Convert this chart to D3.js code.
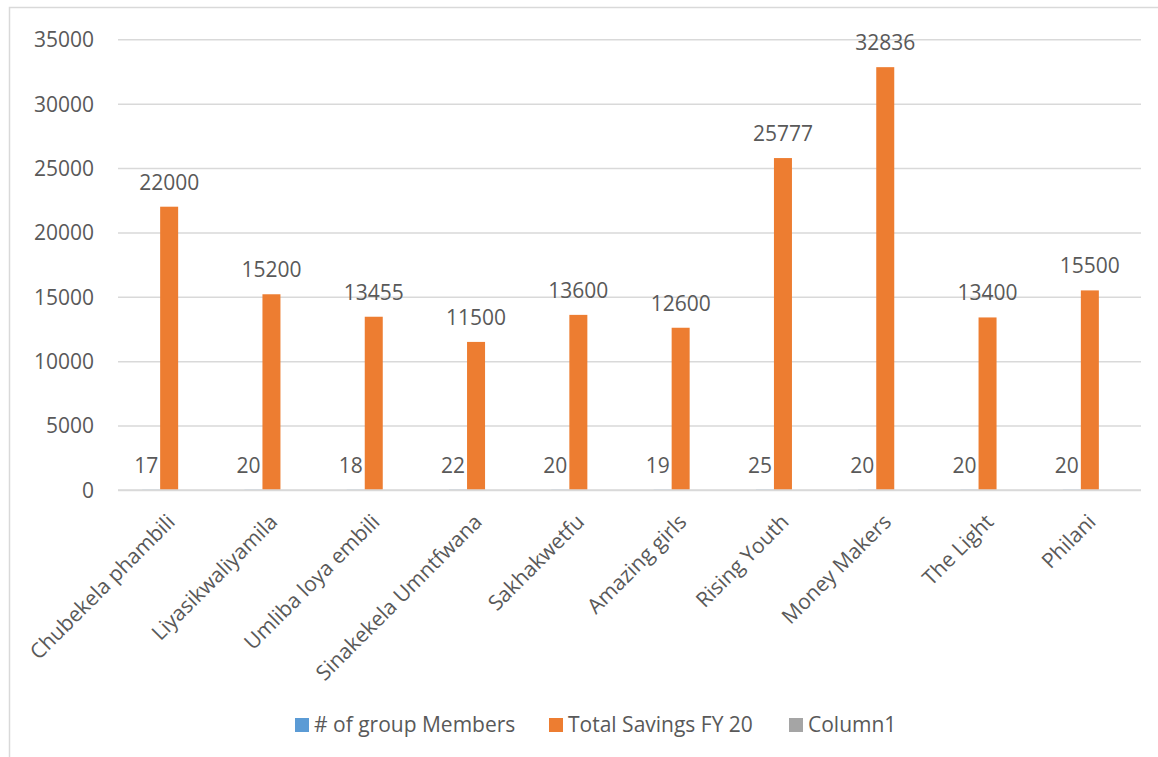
<!DOCTYPE html>
<html>
<head>
<meta charset="utf-8">
<script src="https://cdn.jsdelivr.net/npm/d3@7"></script>
<style>
  html, body { margin: 0; padding: 0; background: #ffffff; }
  svg { display: block; }
  text { font-family: "Open Sans", sans-serif; fill: #595959; }
</style>
</head>
<body>
<svg id="chart" width="1158" height="757"></svg>
<script>
const categories = ["Chubekela phambili", "Liyasikwaliyamila", "Umliba loya embili", "Sinakekela Umntfwana", "Sakhakwetfu", "Amazing girls", "Rising Youth", "Money Makers", "The Light", "Philani"];
const members = [17, 20, 18, 22, 20, 19, 25, 20, 20, 20];
const savings = [22000, 15200, 13455, 11500, 13600, 12600, 25777, 32836, 13400, 15500];
const column1 = [null, null, null, null, null, null, null, null, null, null];
const seriesNames = ["# of group Members", "Total Savings FY 20", "Column1"];
const seriesColors = ["#5b9bd5", "#ed7d31", "#a5a5a5"];
const yTicks = [0, 5000, 10000, 15000, 20000, 25000, 30000, 35000];

const svg = d3.select("#chart");
const W = 1158, H = 757;
const plot = { left: 118, right: 1141, top: 39.3, bottom: 490 };

// chart frame
svg.append("rect")
  .attr("x", 9.5).attr("y", 7.5)
  .attr("width", W + 20).attr("height", H + 20)
  .attr("fill", "#ffffff").attr("stroke", "#d9d9d9").attr("stroke-width", 1.5);

const y = d3.scaleLinear().domain([0, 35000]).range([plot.bottom, plot.top]);
const x0 = d3.scaleBand().domain(categories).range([plot.left, plot.right])
  .paddingInner(0.472).paddingOuter(0.236);
const x1 = d3.scaleBand().domain(seriesNames).range([0, x0.bandwidth()]);

// gridlines + y labels
const yAxis = d3.axisLeft(y).tickValues(yTicks).tickSize(-(plot.right - plot.left)).tickPadding(24).tickFormat(d3.format("d"));
const gy = svg.append("g").attr("transform", `translate(${plot.left},0)`).call(yAxis);
gy.select(".domain").remove();
gy.selectAll(".tick line").attr("stroke", "#d9d9d9").attr("stroke-width", 1.5);
gy.selectAll(".tick text").style("font-size", "21px").attr("fill", "#595959").attr("dy", "0.35em");

const data = categories.map((c, i) => ({ cat: c, vals: [members[i], savings[i], column1[i]] }));

// bars
const groups = svg.append("g").selectAll("g").data(data).join("g")
  .attr("transform", d => `translate(${x0(d.cat)},0)`);
groups.selectAll("rect").data(d => d.vals.map((v, k) => ({ v, k })).filter(e => e.v != null)).join("rect")
  .attr("x", e => x1(seriesNames[e.k]))
  .attr("width", x1.bandwidth())
  .attr("y", e => y(e.v))
  .attr("height", e => y(0) - y(e.v))
  .attr("fill", e => seriesColors[e.k]);

// axis baseline
svg.append("line")
  .attr("x1", plot.left).attr("x2", plot.right)
  .attr("y1", y(0)).attr("y2", y(0))
  .attr("stroke", "#d9d9d9").attr("stroke-width", 1.5);

// data labels: savings centred above bar
groups.append("text")
  .attr("x", x1(seriesNames[1]) + x1.bandwidth() / 2)
  .attr("y", d => y(d.vals[1]) - 17)
  .attr("text-anchor", "middle")
  .style("font-size", "21px")
  .text(d => d.vals[1]);

// data labels: members
groups.append("text")
  .attr("x", x1(seriesNames[0]) + x1.bandwidth() - 2)
  .attr("y", d => y(d.vals[0]) - 17)
  .attr("text-anchor", "end")
  .style("font-size", "21px")
  .text(d => d.vals[0]);

// category labels
const xAxis = d3.axisBottom(x0).tickSize(0).tickPadding(0);
const gx = svg.append("g").attr("transform", `translate(0,${plot.bottom})`).call(xAxis);
gx.select(".domain").remove();
gx.selectAll(".tick text")
  .style("font-size", "21px")
  .attr("fill", "#595959")
  .attr("text-anchor", "end")
  .attr("dy", "0.35em")
  .attr("y", 0)
  .attr("transform", "translate(2,28) rotate(-45)");

// legend
const legendItems = [
  { name: seriesNames[0], color: seriesColors[0], x: 295 },
  { name: seriesNames[1], color: seriesColors[1], x: 549 },
  { name: seriesNames[2], color: seriesColors[2], x: 789 }
];
const lg = svg.append("g").selectAll("g").data(legendItems).join("g")
  .attr("transform", d => `translate(${d.x},725)`);
lg.append("rect").attr("x", 0).attr("y", -7).attr("width", 14).attr("height", 14).attr("fill", d => d.color);
lg.append("text").attr("x", 19).attr("dy", "0.35em").style("font-size", "21px").text(d => d.name);
</script>
</body>
</html>
